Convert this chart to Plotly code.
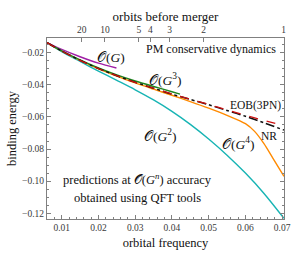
import plotly.graph_objects as go

# ---- data ----
freq = [0.006, 0.01, 0.015, 0.02, 0.025, 0.03, 0.035, 0.04, 0.045, 0.05, 0.055, 0.06, 0.065, 0.0705]

nr = [-0.0137, -0.0189, -0.0247, -0.0298, -0.0343, -0.0384, -0.0421, -0.0458, -0.0491, -0.0524, -0.0560, -0.0596, -0.0636, -0.0682]
eob = [-0.0137, -0.0189, -0.0247, -0.0298, -0.0343, -0.0384, -0.0421, -0.0457, -0.0490, -0.0522, -0.0557, -0.0590, -0.0622, -0.0653]

g2 = [-0.0137, -0.0193, -0.0254, -0.0314, -0.0372, -0.0431, -0.0494, -0.0565, -0.0646, -0.0737, -0.0838, -0.0950, -0.1075, -0.1232]

freq_g4 = [0.006, 0.01, 0.015, 0.02, 0.025, 0.03, 0.035, 0.04, 0.045, 0.05, 0.055, 0.06, 0.0625, 0.065, 0.0675, 0.0705]
g4 = [-0.0137, -0.0189, -0.0248, -0.0300, -0.0346, -0.0388, -0.0427, -0.0465, -0.0504, -0.0545, -0.0590, -0.0642, -0.0690, -0.0765, -0.0858, -0.0970]

freq_g1 = [0.006, 0.01, 0.015, 0.02, 0.0249]
g1 = [-0.0137, -0.0179, -0.0225, -0.0265, -0.0295]

freq_g3 = [0.006, 0.01, 0.015, 0.02, 0.025, 0.03, 0.035, 0.04, 0.0422]
g3 = [-0.0137, -0.0188, -0.0245, -0.0295, -0.0338, -0.0376, -0.0410, -0.0443, -0.0458]

orbit_tick_freq = [0.01544, 0.02178, 0.03103, 0.0341, 0.0394, 0.04864, 0.0704]
orbit_tick_text = ["20", "10", "5", "4", "3", "2", "1"]

x_ticks = [0.01, 0.02, 0.03, 0.04, 0.05, 0.06, 0.07]
x_tick_text = ["0.01", "0.02", "0.03", "0.04", "0.05", "0.06", "0.07"]
y_ticks = [-0.12, -0.10, -0.08, -0.06, -0.04, -0.02]
y_tick_text = ["−0.12", "−0.10", "−0.08", "−0.06", "−0.04", "−0.02"]

x_range = [0.006, 0.0705]
y_range = [-0.1236, -0.0108]

FONT = "Liberation Serif"
frame_col = "#808080"
tick_col = "#3a3a3a"
txt = "#111111"

fig = go.Figure()

def line(x, y, color, dash="solid", axis="x", width=1.4):
    fig.add_trace(go.Scatter(x=x, y=y, mode="lines", xaxis=axis,
                             line=dict(color=color, width=width, dash=dash, shape="spline", smoothing=0.8),
                             showlegend=False, hoverinfo="skip"))

line(freq, g2, "#17b4b4")
line(freq_g4, g4, "#ff8a00")
line(freq_g1, g1, "#a01fa6")
line(freq_g3, g3, "#1e861e")
line(freq, nr, "#111111", dash="dashdot", width=1.5)
line(freq, eob, "#cc1111", dash="dash", axis="x2", width=1.3)

ann = [
    (0.0235, -0.0228, "𝒪(<i>G</i>)"),
    (0.0381, -0.0365, "𝒪(<i>G</i><sup>3</sup>)"),
    (0.0367, -0.0716, "𝒪(<i>G</i><sup>2</sup>)"),
    (0.0579, -0.0768, "𝒪(<i>G</i><sup>4</sup>)"),
]
for x, y, t in ann:
    fig.add_annotation(x=x, y=y, text=t, showarrow=False,
                       font=dict(family=FONT, size=13.5, color=txt))

fig.add_annotation(x=0.0703, y=-0.0528, xanchor="right", text="EOB(3PN)", showarrow=False,
                   font=dict(family=FONT, size=11.5, color=txt))
fig.add_annotation(x=0.0664, y=-0.0720, xanchor="center", text="NR", showarrow=False,
                   font=dict(family=FONT, size=11.5, color=txt))
fig.add_annotation(x=0.0688, y=-0.0179, xanchor="right", text="PM conservative dynamics", showarrow=False,
                   font=dict(family=FONT, size=12, color=txt))
fig.add_annotation(x=0.0306, y=-0.0989, xanchor="center",
                   text="predictions at 𝒪(<i>G</i><sup><i>n</i></sup>) accuracy", showarrow=False,
                   font=dict(family=FONT, size=12.5, color=txt))
fig.add_annotation(x=0.0306, y=-0.1105, xanchor="center",
                   text="obtained using QFT tools", showarrow=False,
                   font=dict(family=FONT, size=12.5, color=txt))

fig.update_layout(
    width=295, height=257,
    margin=dict(l=47, r=4, t=38, b=38),
    paper_bgcolor="white", plot_bgcolor="white",
    font=dict(family=FONT, size=9.5, color=tick_col),
    xaxis=dict(range=x_range, autorange=False, tickmode="array", tickvals=x_ticks, ticktext=x_tick_text,
               ticklabeloverflow="allow",
               ticks="inside", ticklen=4, tickcolor=frame_col, tickwidth=1,
               minor=dict(dtick=0.002, tick0=0.0, ticks="inside", ticklen=2, tickcolor=frame_col),
               showline=True, linecolor=frame_col, linewidth=1, mirror=False,
               showgrid=False, zeroline=False,
               title=dict(text="orbital frequency", font=dict(family=FONT, size=12.5, color=txt), standoff=5),
               tickfont=dict(family=FONT, size=9.5, color=tick_col)),
    xaxis2=dict(range=x_range, autorange=False, overlaying="x", side="top", anchor="y", tickmode="array",
                tickvals=orbit_tick_freq, ticktext=orbit_tick_text, ticklabeloverflow="allow",
                ticks="inside", ticklen=4, tickcolor=frame_col,
                showline=True, linecolor=frame_col, linewidth=1,
                showgrid=False, zeroline=False,
                title=dict(text="orbits before merger", font=dict(family=FONT, size=13, color=txt), standoff=0),
                tickfont=dict(family=FONT, size=9.5, color=tick_col)),
    yaxis=dict(range=y_range, autorange=False, tickmode="array", tickvals=y_ticks, ticktext=y_tick_text,
               ticks="inside", ticklen=4, tickcolor=frame_col,
               minor=dict(dtick=0.005, tick0=0.0, ticks="inside", ticklen=2, tickcolor=frame_col),
               showline=True, linecolor=frame_col, linewidth=1, mirror="ticks",
               showgrid=False, zeroline=False,
               title=dict(text="binding energy", font=dict(family=FONT, size=12.5, color=txt), standoff=2),
               tickfont=dict(family=FONT, size=9.5, color=tick_col)),
)

fig.write_html("out.html", config={"displayModeBar": False},
               post_script="document.body.style.margin='0px';document.body.style.overflow='hidden';")
